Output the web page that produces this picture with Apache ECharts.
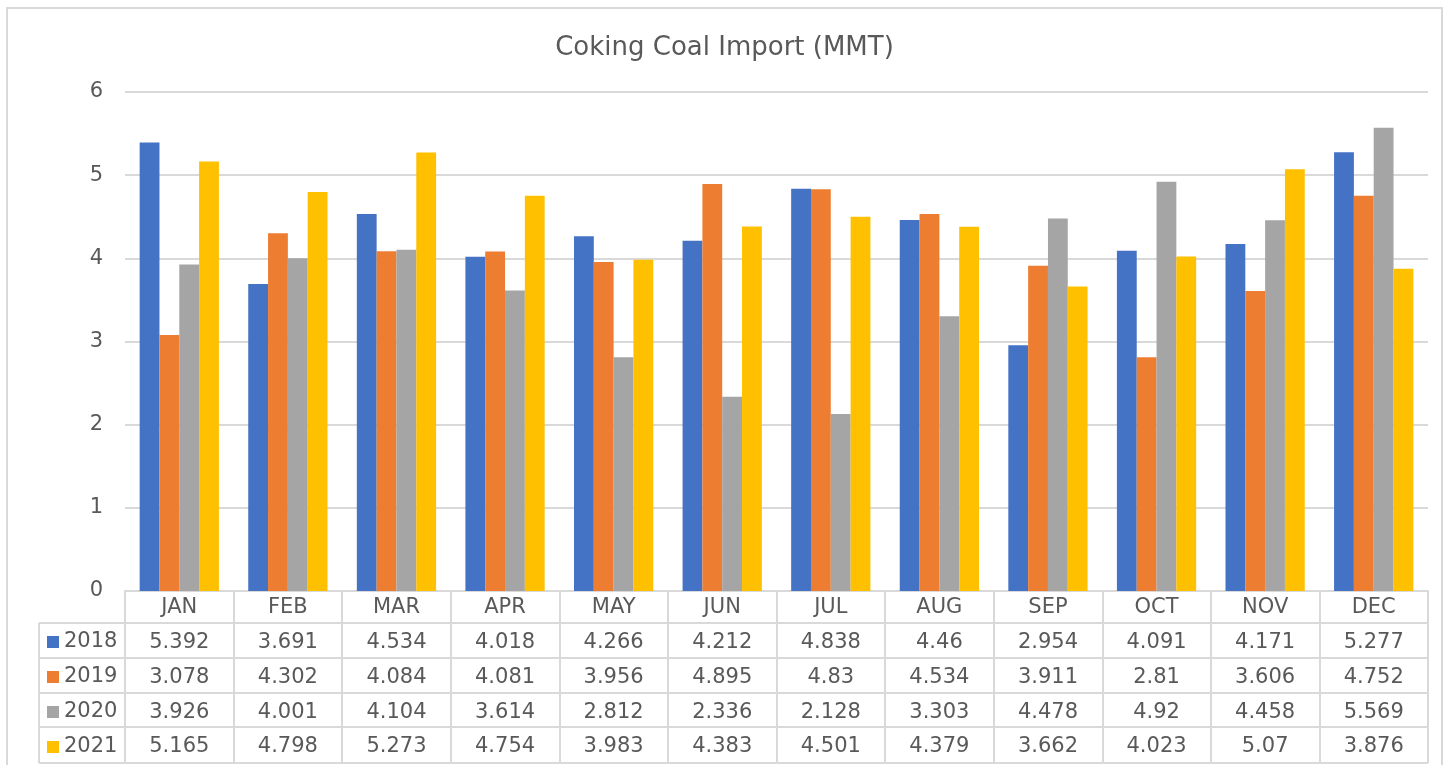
<!DOCTYPE html>
<html>
<head>
<meta charset="utf-8">
<script src="https://cdn.jsdelivr.net/npm/echarts@6/dist/echarts.min.js"></script>
<style>
  html, body { margin: 0; padding: 0; background: #fff; }
  #chart { width: 1449px; height: 765px; }
</style>
</head>
<body>
<div id="chart"></div>
<script>
// data
const months = ['JAN', 'FEB', 'MAR', 'APR', 'MAY', 'JUN', 'JUL', 'AUG', 'SEP', 'OCT', 'NOV', 'DEC']
const years = ['2018', '2019', '2020', '2021']
const v2018 = [5.392, 3.691, 4.534, 4.018, 4.266, 4.212, 4.838, 4.46, 2.954, 4.091, 4.171, 5.277]
const v2019 = [3.078, 4.302, 4.084, 4.081, 3.956, 4.895, 4.83, 4.534, 3.911, 2.81, 3.606, 4.752]
const v2020 = [3.926, 4.001, 4.104, 3.614, 2.812, 2.336, 2.128, 3.303, 4.478, 4.92, 4.458, 5.569]
const v2021 = [5.165, 4.798, 5.273, 4.754, 3.983, 4.383, 4.501, 4.379, 3.662, 4.023, 5.07, 3.876]
const yTicks = [0, 1, 2, 3, 4, 5, 6]

const allValues = [v2018, v2019, v2020, v2021]
const colors = ['#4472c4', '#ed7d31', '#a5a5a5', '#ffc000']
const textColor = '#595959'
const lineColor = '#d9d9d9'
const font = 'DejaVu Sans'
const fs = 21

// layout of the data table under the plot
const plotLeft = 125
const plotRight = 1428
const axisY = 591
const rowTops = [623, 658, 693, 727]
const tableBottom = 763
const legendLeft = 39

const chart = echarts.init(document.getElementById('chart'))

const rowAxes = allValues.map((vals, i) => ({
  type: 'category',
  gridIndex: 0,
  position: 'bottom',
  offset: rowTops[i] - axisY,
  data: vals.map(v => String(v)),
  axisLine: { show: false },
  axisTick: { show: false },
  axisLabel: { interval: 0, margin: 9, color: textColor, fontSize: fs, fontFamily: font }
}))

const hLines = rowTops.concat([tableBottom]).map(y => ({
  type: 'line',
  shape: { x1: legendLeft, y1: y, x2: plotRight, y2: y },
  style: { stroke: lineColor, lineWidth: 2 }
}))

let option = {
  animation: false,
  title: {
    text: 'Coking Coal Import (MMT)',
    left: 'center',
    top: 30,
    textStyle: { color: textColor, fontSize: 26, fontWeight: 'normal', fontFamily: font }
  },
  legend: {
    orient: 'vertical',
    left: 47,
    top: 631,
    padding: 0,
    itemGap: 13,
    itemWidth: 12,
    itemHeight: 12,
    icon: 'rect',
    data: years,
    textStyle: { color: textColor, fontSize: fs, lineHeight: 22, fontFamily: font }
  },
  grid: {
    left: plotLeft,
    right: 1449 - plotRight,
    top: 92,
    bottom: 765 - axisY
  },
  xAxis: [
    {
      type: 'category',
      data: months,
      axisLine: { lineStyle: { color: lineColor, width: 2 } },
      axisTick: {
        show: true,
        interval: 0,
        length: tableBottom - axisY,
        lineStyle: { color: lineColor, width: 2 }
      },
      axisLabel: { interval: 0, margin: 6, color: textColor, fontSize: fs, fontFamily: font }
    }
  ].concat(rowAxes),
  yAxis: {
    type: 'value',
    min: yTicks[0],
    max: yTicks[yTicks.length - 1],
    interval: 1,
    axisLine: { show: false },
    axisTick: { show: false },
    axisLabel: { margin: 22, color: textColor, fontSize: fs, fontFamily: font, padding: [3, 0, 0, 0] },
    splitLine: { lineStyle: { color: lineColor, width: 2 } }
  },
  graphic: [
    {
      type: 'rect',
      shape: { x: 7, y: 8, width: 1435, height: 800 },
      style: { fill: 'none', stroke: lineColor, lineWidth: 2 },
      silent: true
    },
    {
      type: 'line',
      shape: { x1: legendLeft, y1: rowTops[0], x2: legendLeft, y2: tableBottom },
      style: { stroke: lineColor, lineWidth: 2 }
    }
  ].concat(hLines),
  series: years.map((y, i) => ({
    name: y,
    type: 'bar',
    xAxisIndex: 0,
    barGap: 0,
    barCategoryGap: '27%',
    itemStyle: { color: colors[i] },
    data: allValues[i]
  }))
}

chart.setOption(option)
</script>
</body>
</html>
